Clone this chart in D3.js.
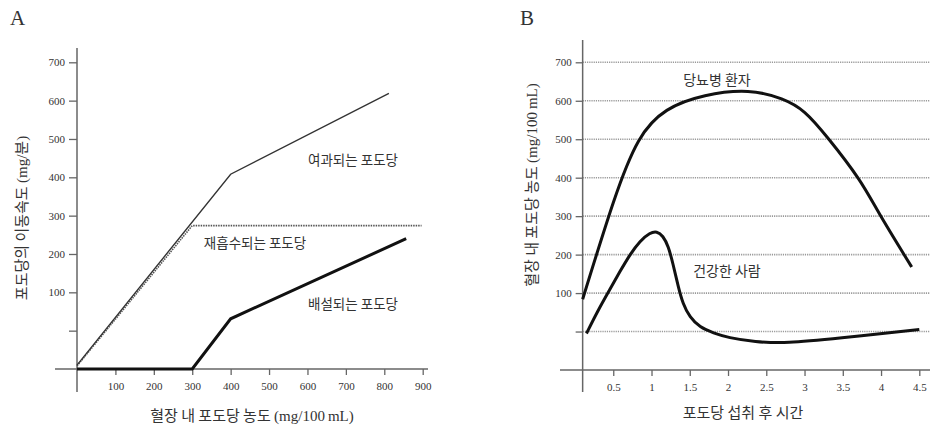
<!DOCTYPE html>
<html>
<head>
<meta charset="utf-8">
<script src="https://cdn.jsdelivr.net/npm/d3@7"></script>
<style>
body { margin: 0; background: #fff; }
text { fill: #333; }
</style>
</head>
<body>
<script>
var width = 934, height = 427;

// panel A data (mg/100mL vs mg/min)
var filtered = [[0, -90], [400, 408], [812, 619]];
var reabsorbed = [[0, -92], [300, 274], [897, 274]];
var excreted = [[0, -100], [300, -100], [400, 31], [857, 240]];
var aXTicks = [100, 200, 300, 400, 500, 600, 700, 800, 900];
var yTicks = [0, 100, 200, 300, 400, 500, 600, 700];

// panel B data (hours vs mg/100mL)
var diabetic = [[0.1, 84], [0.5, 335], [0.83, 495], [1.2, 575], [1.7, 613],
  [2.26, 624], [2.7, 605], [3.0, 570], [3.31, 502], [3.7, 399],
  [4.0, 299], [4.4, 168]];
var healthy = [[0.15, -5], [0.3, 55], [0.457, 110], [0.59, 157], [0.72, 201], [0.85, 236],
  [0.98, 257], [1.07, 261], [1.15, 249], [1.22, 222], [1.28, 177], [1.35, 116],
  [1.41, 72], [1.5, 37], [1.63, 11], [1.81, -4], [2.0, -16], [2.35, -27],
  [2.76, -31], [3.42, -18], [4.5, 5]];
var bXTicks = [0.5, 1, 1.5, 2, 2.5, 3, 3.5, 4, 4.5];

var svg = d3.select("body")
.append("svg")
.attr("width", width)
.attr("height", height)
.attr("id","svg");

var serif = "'Liberation Serif', 'DejaVu Serif', serif";
var kr = "'Noto Sans CJK KR', sans-serif";
var axisColor = "#666";

// ---------- panel A ----------
var xA = d3.scaleLinear().domain([0, 900]).range([77, 422.7]);
var yA = d3.scaleLinear().domain([-100, 700]).range([369, 62.3]);

var gA = svg.append("g").attr("id","panelA");

gA.append("text").attr("x", 10).attr("y", 25)
.attr("font-family", serif).attr("font-size", 21).text("A");

// axis lines
gA.append("line").attr("x1", 55).attr("x2", 428).attr("y1", yA(-100)).attr("y2", yA(-100))
.attr("stroke", axisColor).attr("stroke-width", 1.5);
gA.append("line").attr("x1", xA(0)).attr("x2", xA(0)).attr("y1", 48).attr("y2", 392)
.attr("stroke", axisColor).attr("stroke-width", 1.5);

var xAxisA = d3.axisBottom(xA).tickValues(aXTicks).tickSize(6).tickPadding(7);
gA.append("g").attr("transform", "translate(0," + yA(-100) + ")").call(xAxisA)
.call(function(g){ g.select(".domain").remove(); })
.call(function(g){ g.selectAll("line").attr("stroke", axisColor).attr("stroke-width", 1.3); })
.call(function(g){ g.selectAll("text").attr("font-family", serif).attr("font-size", 11).attr("fill", "#444"); });

var yAxisA = d3.axisLeft(yA).tickValues(yTicks).tickSize(8).tickPadding(4)
.tickFormat(function(d){ return d === 0 ? "" : d; });
gA.append("g").attr("transform", "translate(" + xA(0) + ",0)").call(yAxisA)
.call(function(g){ g.select(".domain").remove(); })
.call(function(g){ g.selectAll("line").attr("stroke", axisColor).attr("stroke-width", 1.3); })
.call(function(g){ g.selectAll("text").attr("font-family", serif).attr("font-size", 11).attr("fill", "#444"); });

var lineA = d3.line().x(function(d){ return xA(d[0]); }).y(function(d){ return yA(d[1]); });

gA.append("path").datum(reabsorbed).attr("d", lineA)
.attr("fill", "none").attr("stroke", "#555").attr("stroke-width", 1.6).attr("stroke-dasharray", "1.5,1");
gA.append("path").datum(filtered).attr("d", lineA)
.attr("fill", "none").attr("stroke", "#333").attr("stroke-width", 1.4);
gA.append("path").datum(excreted).attr("d", lineA)
.attr("fill", "none").attr("stroke", "#111").attr("stroke-width", 3);

gA.append("text").attr("x", 353).attr("y", 165).attr("text-anchor", "middle")
.attr("font-family", kr).attr("font-size", 13.5).text("여과되는 포도당");
gA.append("text").attr("x", 255).attr("y", 248).attr("text-anchor", "middle")
.attr("font-family", kr).attr("font-size", 13.5).text("재흡수되는 포도당");
gA.append("text").attr("x", 353).attr("y", 309).attr("text-anchor", "middle")
.attr("font-family", kr).attr("font-size", 13.5).text("배설되는 포도당");

var xtA = gA.append("text").attr("x", 252).attr("y", 421).attr("text-anchor", "middle")
.attr("font-family", kr).attr("font-size", 15);
xtA.append("tspan").text("혈장 내 포도당 농도 ");
xtA.append("tspan").attr("font-family", serif).attr("font-size", 15).text("(mg/100\u2009mL)");

var ytA = gA.append("text").attr("transform", "translate(27,218) rotate(-90)").attr("text-anchor", "middle")
.attr("font-family", kr).attr("font-size", 15);
ytA.append("tspan").text("포도당의 이동속도 ");
ytA.append("tspan").attr("font-family", serif).text("(mg/");
ytA.append("tspan").text("분");
ytA.append("tspan").attr("font-family", serif).text(")");

// ---------- panel B ----------
var xB = d3.scaleLinear().domain([0, 4.5]).range([575, 919.3]);
var yB = d3.scaleLinear().domain([-100, 700]).range([370, 62.3]);
var yAxisX = xB(0.1);

var gB = svg.append("g").attr("id","panelB");

gB.append("text").attr("x", 520).attr("y", 25)
.attr("font-family", serif).attr("font-size", 21).text("B");

// grid lines
gB.selectAll(".grid").data(yTicks).enter().append("line")
.attr("class", "grid")
.attr("x1", yAxisX).attr("x2", 930)
.attr("y1", function(d){ return yB(d); }).attr("y2", function(d){ return yB(d); })
.attr("stroke", "#999").attr("stroke-width", 1.6).attr("stroke-dasharray", "1.2,1");

gB.append("line").attr("x1", 560).attr("x2", 930).attr("y1", yB(-100)).attr("y2", yB(-100))
.attr("stroke", axisColor).attr("stroke-width", 1.5);
gB.append("line").attr("x1", yAxisX).attr("x2", yAxisX).attr("y1", 40).attr("y2", 392)
.attr("stroke", axisColor).attr("stroke-width", 1.5);

var xAxisB = d3.axisBottom(xB).tickValues(bXTicks).tickSize(6).tickPadding(7)
.tickFormat(function(d){ return String(d); });
gB.append("g").attr("transform", "translate(0," + yB(-100) + ")").call(xAxisB)
.call(function(g){ g.select(".domain").remove(); })
.call(function(g){ g.selectAll("line").attr("stroke", axisColor).attr("stroke-width", 1.3); })
.call(function(g){ g.selectAll("text").attr("font-family", serif).attr("font-size", 11).attr("fill", "#444"); });

var yAxisB = d3.axisLeft(yB).tickValues(yTicks).tickSize(7).tickPadding(4)
.tickFormat(function(d){ return d === 0 ? "" : d; });
gB.append("g").attr("transform", "translate(" + yAxisX + ",0)").call(yAxisB)
.call(function(g){ g.select(".domain").remove(); })
.call(function(g){ g.selectAll("line").attr("stroke", axisColor).attr("stroke-width", 1.3); })
.call(function(g){ g.selectAll("text").attr("font-family", serif).attr("font-size", 11).attr("fill", "#444"); });

var lineDiab = d3.line().curve(d3.curveNatural)
.x(function(d){ return xB(d[0]); }).y(function(d){ return yB(d[1]); });
var lineHealthy = d3.line().curve(d3.curveBasis)
.x(function(d){ return xB(d[0]); }).y(function(d){ return yB(d[1]); });

gB.append("path").datum(diabetic).attr("d", lineDiab)
.attr("fill", "none").attr("stroke", "#111").attr("stroke-width", 3);
gB.append("path").datum(healthy).attr("d", lineHealthy)
.attr("fill", "none").attr("stroke", "#111").attr("stroke-width", 3);

gB.append("text").attr("x", 717).attr("y", 85).attr("text-anchor", "middle")
.attr("font-family", kr).attr("font-size", 14).text("당뇨병 환자");
gB.append("text").attr("x", 727).attr("y", 276).attr("text-anchor", "middle")
.attr("font-family", kr).attr("font-size", 14).text("건강한 사람");

gB.append("text").attr("x", 743).attr("y", 418).attr("text-anchor", "middle")
.attr("font-family", kr).attr("font-size", 15).text("포도당 섭취 후 시간");

var ytB = gB.append("text").attr("transform", "translate(537,185) rotate(-90)").attr("text-anchor", "middle")
.attr("font-family", kr).attr("font-size", 15);
ytB.append("tspan").text("혈장 내 포도당 농도 ");
ytB.append("tspan").attr("font-family", serif).text("(mg/100\u2009mL)");
</script>
</body>
</html>
